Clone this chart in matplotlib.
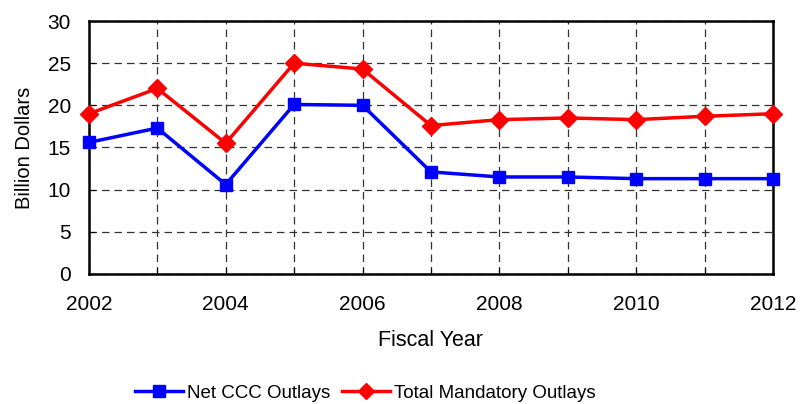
import matplotlib.pyplot as plt
from matplotlib.ticker import MultipleLocator

plt.rcParams['font.family'] = ['Liberation Sans', 'DejaVu Sans']

years = list(range(2002, 2013))
net_ccc = [15.6, 17.3, 10.6, 20.1, 20.0, 12.1, 11.5, 11.5, 11.3, 11.3, 11.3]
total_mandatory = [19.0, 22.0, 15.5, 25.0, 24.3, 17.6, 18.3, 18.5, 18.3, 18.7, 19.0]

fig = plt.figure(figsize=(8.01, 4.04), dpi=100)
ax = fig.add_axes([0.111, 0.322, 0.854, 0.626])

ax.plot(years, net_ccc, color='#0000ff', lw=2.5, marker='s', ms=9,
        label='Net CCC Outlays', zorder=3, clip_on=False)
ax.plot(years, total_mandatory, color='#ff0000', lw=2.5, marker='D', ms=9,
        label='Total Mandatory Outlays', zorder=3, clip_on=False)

ax.set_xlim(2002, 2012)
ax.set_ylim(0, 30)
ax.set_xticks(years)
ax.set_xticklabels([str(y) if y % 2 == 0 else '' for y in years])
ax.yaxis.set_major_locator(MultipleLocator(5))
ax.tick_params(direction='in', length=4, width=0.8, labelsize=15)
ax.tick_params(axis='y', pad=13)
ax.tick_params(axis='x', pad=15)

ax.grid(True, color='#333333', linestyle=(0, (6, 4)), linewidth=0.9)
for s in ax.spines.values():
    s.set_linewidth(1.8)
    s.set_color('black')

ax.set_ylabel('Billion Dollars', fontsize=14.5, labelpad=10)
ax.set_xlabel('Fiscal Year', fontsize=15.5, labelpad=12)

fig.legend(loc='center', bbox_to_anchor=(0.456, 0.027), ncol=2, frameon=False,
           fontsize=13.5, handlelength=2.6, columnspacing=0.6, handletextpad=0.2,
           markerscale=0.9)

fig.savefig('out.png', dpi=100)
